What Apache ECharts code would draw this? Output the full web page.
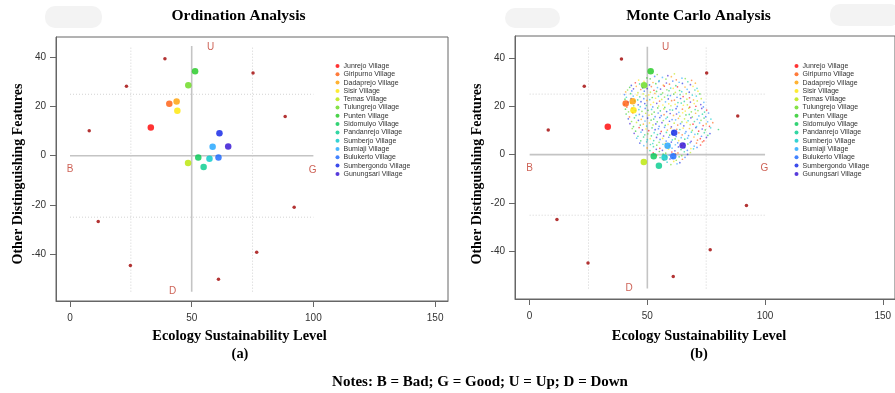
<!DOCTYPE html>
<html>
<head>
<meta charset="utf-8">
<script src="https://cdn.jsdelivr.net/npm/echarts@6/dist/echarts.min.js"></script>
<style>html,body{margin:0;padding:0;background:#fff}#chart{width:895px;height:393px}</style>
</head>
<body>
<div id="chart"></div>
<script>
const villages = ['Junrejo Village','Giripurno Village','Dadaprejo Village','Sisir Village','Temas Village','Tulungrejo Village','Punten Village','Sidomulyo Village','Pandanrejo Village','Sumberjo Village','Bumiaji Village','Bulukerto Village','Sumbergondo Village','Gunungsari Village'];
const villageX = [33.2, 40.8, 43.8, 44.1, 48.5, 48.6, 51.4, 52.7, 54.9, 57.3, 58.6, 61.0, 61.4, 65.0];
const villageY = [11.5, 21.1, 22.1, 18.3, -3.0, 28.7, 34.4, -0.7, -4.6, -1.2, 3.7, -0.7, 9.1, 3.8];
const villageColors = ['#ff0000','#ff5a0a','#ff9f00','#ffe600','#b8e600','#66d91a','#1ec81e','#00c853','#00cc8c','#00c8c8','#1aa3ff','#1464ff','#0a1ee6','#2d0ad2'];

const refX = [39.0, 23.2, 7.9, 75.2, 88.4, 11.6, 24.8, 61.0, 76.7, 92.1];
const refY = [39.5, 28.3, 10.2, 33.7, 16.0, -26.8, -44.7, -50.3, -39.3, -21.0];

const quadLabels = ['U','B','G','D'];
const quadX = [57.8, 0, 99.7, 42.2];
const quadY = [44.3, -5.5, -5.8, -55.3];

const solidLines = [[[50,-55.3],[50,44.6]], [[0,0],[100,0]]];
const dottedLines = [[[25,-55.3],[25,44.6]], [[75,-55.3],[75,44.6]], [[0,25],[100,25]], [[0,-25],[100,-25]]];

const xTicks = [0, 50, 100, 150];
const yTicks = [-40, -20, 0, 20, 40];

const monteCarloPoints = [
[54.2,33.1],[58.7,32.6],[61.5,33.4],
[49.8,31.7],[53.1,32.3],[56.4,31.9],[60.2,32.2],[64.7,31.6],
[46.3,30.8],[51.2,31.3],[55.0,30.6],[57.9,31.2],[62.3,30.9],[66.1,31.4],[68.8,30.7],
[44.9,29.7],[48.6,30.3],[52.4,29.8],[54.9,30.2],[58.1,29.6],[60.8,30.4],[63.5,29.9],[67.2,30.1],[70.4,29.5],
[43.2,28.6],[46.7,29.2],[50.9,28.8],[53.6,29.3],[56.8,28.7],[59.4,29.1],[62.1,28.5],[64.9,29.4],[68.3,28.9],
[42.5,27.8],[45.3,28.2],[48.0,27.6],[51.7,28.1],[54.3,27.7],[57.2,28.3],[59.9,27.5],[62.8,28.0],[66.0,27.9],[69.4,28.2],[71.1,27.4],
[41.6,26.7],[44.1,27.2],[47.2,26.9],[49.9,27.3],[52.8,26.6],[55.6,27.1],[58.3,26.8],[61.0,27.4],[63.7,26.5],[66.9,27.0],[70.2,26.7],
[40.8,25.9],[43.4,26.3],[46.0,25.6],[48.7,26.2],[51.3,25.8],[53.9,26.1],[56.5,25.5],[59.2,26.4],[61.9,25.7],[64.6,26.0],[67.8,25.8],[71.5,26.2],
[40.3,24.8],[42.9,25.2],[45.6,24.6],[48.2,25.1],[50.6,24.7],[53.2,25.3],[55.8,24.9],[58.6,24.5],[61.2,25.0],[63.9,24.8],[66.5,25.2],[69.1,24.6],[72.3,25.1],
[41.1,23.7],[44.0,24.2],[46.8,23.9],[49.4,24.3],[52.1,23.6],[54.7,24.1],[57.3,23.8],[59.8,24.4],[62.6,23.7],[65.2,24.0],[67.9,23.5],[70.8,24.2],
[40.5,22.9],[43.1,23.2],[45.9,22.6],[48.5,23.1],[51.0,22.7],[53.5,23.3],[56.1,22.8],[58.9,23.0],[61.5,22.5],[64.1,23.2],[66.8,22.9],[69.6,22.6],[72.9,23.1],
[41.8,21.7],[44.6,22.2],[47.3,21.9],[49.8,22.4],[52.6,21.6],[55.2,22.1],[57.7,21.8],[60.3,22.3],[63.0,21.5],[65.7,22.0],[68.3,21.7],[71.2,22.2],[74.0,21.6],
[40.2,20.8],[42.9,21.3],[46.1,20.6],[48.9,21.1],[51.4,20.7],[54.0,21.2],[56.6,20.5],[59.1,21.0],[61.8,20.8],[64.4,21.3],[67.0,20.6],[69.9,21.1],[72.7,20.7],
[41.3,19.6],[44.2,20.2],[47.0,19.8],[49.6,20.3],[52.3,19.7],[54.8,20.1],[57.4,19.5],[60.0,20.2],[62.7,19.9],[65.3,20.4],[68.0,19.6],[70.6,20.0],[73.8,19.7],
[40.7,18.8],[43.5,19.2],[46.4,18.6],[49.1,19.1],[51.8,18.7],[54.4,19.3],[57.0,18.9],[59.6,18.5],[62.2,19.0],[64.9,18.8],[67.6,19.2],[70.3,18.6],[73.1,19.1],[75.2,18.4],
[42.0,17.7],[44.9,18.2],[47.7,17.9],[50.3,18.3],[52.9,17.6],[55.5,18.1],[58.2,17.8],[60.7,18.4],[63.4,17.5],[66.1,18.0],[68.7,17.7],[71.5,18.2],[74.3,17.6],
[41.0,16.8],[43.8,17.3],[46.6,16.6],[49.3,17.1],[51.9,16.7],[54.6,17.2],[57.1,16.5],[59.7,17.0],[62.4,16.8],[65.0,17.3],[67.8,16.6],[70.5,17.1],[73.4,16.7],[76.0,17.2],
[42.4,15.6],[45.2,16.2],[48.0,15.8],[50.7,16.3],[53.3,15.7],[55.9,16.1],[58.5,15.5],[61.1,16.2],[63.8,15.9],[66.4,16.4],[69.1,15.6],[71.9,16.0],[74.8,15.7],
[41.9,14.8],[44.5,15.2],[47.4,14.6],[50.1,15.1],[52.7,14.7],[55.3,15.3],[57.9,14.9],[60.5,14.5],[63.2,15.0],[65.8,14.8],[68.5,15.2],[71.2,14.6],[74.1,15.1],[77.0,14.7],
[43.3,13.7],[46.2,14.2],[49.0,13.9],[51.6,14.3],[54.2,13.6],[56.8,14.1],[59.4,13.8],[62.0,14.4],[64.7,13.5],[67.3,14.0],[70.0,13.7],[72.8,14.2],[75.6,13.6],
[42.6,12.8],[45.4,13.3],[48.3,12.6],[50.9,13.1],[53.6,12.7],[56.2,13.2],[58.8,12.5],[61.4,13.0],[64.1,12.8],[66.7,13.3],[69.4,12.6],[72.2,13.1],[75.0,12.7],[77.8,13.2],
[44.1,11.6],[47.0,12.2],[49.7,11.8],[52.4,12.3],[55.0,11.7],[57.6,12.1],[60.2,11.5],[62.9,12.2],[65.5,11.9],[68.2,12.4],[70.9,11.6],[73.7,12.0],[76.4,11.7],
[43.6,10.8],[46.5,11.2],[49.4,10.6],[52.0,11.1],[54.7,10.7],[57.3,11.3],[59.9,10.9],[62.5,10.5],[65.2,11.0],[67.9,10.8],[70.6,11.2],[73.3,10.6],[76.9,11.1],[80.2,10.4],
[45.0,9.7],[47.9,10.2],[50.6,9.9],[53.3,10.3],[55.9,9.6],[58.5,10.1],[61.1,9.8],[63.8,10.4],[66.4,9.5],[69.1,10.0],[71.8,9.7],[74.6,10.2],
[44.4,8.8],[47.3,9.3],[50.2,8.6],[52.9,9.1],[55.5,8.7],[58.1,9.2],[60.7,8.5],[63.4,9.0],[66.0,8.8],[68.7,9.3],[71.4,8.6],[74.2,9.1],[76.6,8.7],
[46.0,7.6],[48.9,8.2],[51.7,7.8],[54.3,8.3],[56.9,7.7],[59.5,8.1],[62.2,7.5],[64.8,8.2],[67.5,7.9],[70.2,8.4],[73.0,7.6],[75.7,8.0],
[45.5,6.8],[48.4,7.3],[51.2,6.6],[53.9,7.1],[56.5,6.7],[59.1,7.2],[61.8,6.5],[64.4,7.0],[67.1,6.8],[69.8,7.3],[72.5,6.6],[75.1,7.1],
[47.2,5.7],[50.0,6.2],[52.7,5.8],[55.4,6.3],[58.0,5.6],[60.6,6.1],[63.3,5.8],[65.9,6.4],[68.6,5.5],[71.3,6.0],[74.0,5.7],
[46.8,4.8],[49.7,5.3],[52.3,4.6],[55.0,5.1],[57.6,4.7],[60.2,5.2],[62.9,4.9],[65.5,4.5],[68.2,5.0],[70.9,4.8],[73.4,5.3],
[48.5,3.7],[51.3,4.2],[54.0,3.9],[56.6,4.3],[59.3,3.6],[61.9,4.1],[64.6,3.8],[67.2,4.4],[69.9,3.5],[72.6,4.0],
[49.9,2.8],[52.6,3.3],[55.3,2.6],[57.9,3.1],[60.5,2.7],[63.2,3.2],[65.8,2.9],[68.5,2.5],[71.1,3.0],
[51.1,1.7],[53.8,2.2],[56.4,1.8],[59.0,2.3],[61.7,1.6],[64.3,2.1],[67.0,1.8],[69.6,2.4],
[52.5,0.8],[55.1,1.3],[57.8,0.6],[60.4,1.1],[63.0,0.7],[65.7,1.2],[68.3,0.9],
[54.0,-0.3],[56.7,0.2],[59.3,-0.2],[62.0,0.3],[64.6,-0.4],[67.1,0.1],
[55.4,-1.2],[58.1,-0.8],[60.8,-1.3],[63.5,-0.9],[66.0,-1.1],
[56.9,-2.2],[59.6,-1.8],[62.3,-2.3],[64.9,-1.9],
[58.4,-3.1],[61.2,-2.8],[63.8,-3.3],
[60.0,-4.1],[62.6,-3.8]
];

const chart = echarts.init(document.getElementById('chart'), null, {renderer: 'canvas'});
const SERIF = '"Liberation Serif","Times New Roman",serif';
const SANS = '"Liberation Sans",Arial,sans-serif';

function axes(gridIndex, xmin, xmax, ymin, ymax) {
  const line = {show: true, onZero: false, lineStyle: {color: '#666', width: 1}};
  return {
    x: {type: 'value', gridIndex, min: xmin, max: xmax, splitLine: {show: false}, axisLine: line,
        axisTick: {show: true, inside: false, length: 6, customValues: xTicks, lineStyle: {color: '#666'}},
        axisLabel: {customValues: xTicks, margin: 12, color: '#333', fontFamily: SANS, fontSize: 10}},
    y: {type: 'value', gridIndex, min: ymin, max: ymax, splitLine: {show: false}, axisLine: line,
        axisTick: {show: true, inside: false, length: 6, customValues: yTicks, lineStyle: {color: '#666'}},
        axisLabel: {customValues: yTicks, margin: 10, color: '#333', fontFamily: SANS, fontSize: 10}}
  };
}
const a0 = axes(0, -5.75, 155.3, -59.1, 48.3);
const a1 = axes(1, -6.22, 155.2, -59.6, 49.0);

function colorIndex(i) {
  let h = Math.imul(i + 17, 0x45d9f3b) >>> 0;
  h = (h ^ (h >>> 15)) >>> 0;
  h = Math.imul(h, 0x2c1b3c6d) >>> 0;
  h = (h ^ (h >>> 12)) >>> 0;
  return h % 14;
}

const series = [];
for (let g = 0; g < 2; g++) {
  solidLines.forEach(seg => series.push({type: 'line', xAxisIndex: g, yAxisIndex: g, data: seg, symbol: 'none', silent: true,
    lineStyle: {color: '#c4c4c4', width: 1.6}, z: 1}));
  dottedLines.forEach(seg => series.push({type: 'line', xAxisIndex: g, yAxisIndex: g, data: seg, symbol: 'none', silent: true,
    lineStyle: {color: '#d2d2d2', width: 1, type: [1, 2]}, z: 1}));
  series.push({type: 'scatter', xAxisIndex: g, yAxisIndex: g, symbolSize: 0, silent: true, z: 5,
    data: quadLabels.map((t, i) => ({name: t, value: [quadX[i], quadY[i]]})),
    label: {show: true, position: 'inside', formatter: '{b}', color: '#c0392b', fontFamily: SANS, fontSize: 10}});
  series.push({type: 'scatter', xAxisIndex: g, yAxisIndex: g, name: 'ref', symbolSize: 3.5, z: 6,
    itemStyle: {color: '#a00000'}, data: refX.map((x, i) => [x, refY[i]])});
}
series.push({type: 'scatter', xAxisIndex: 1, yAxisIndex: 1, name: 'mc', symbolSize: 1.7, z: 3, silent: true,
  data: monteCarloPoints.map((p, i) => ({value: p, itemStyle: {color: villageColors[colorIndex(i)], opacity: 0.6}}))});
villages.forEach((v, i) => {
  for (let g = 0; g < 2; g++) {
    series.push({type: 'scatter', name: v, xAxisIndex: g, yAxisIndex: g, symbolSize: 6.5, z: 8,
      itemStyle: {color: villageColors[i]}, data: [[villageX[i], villageY[i]]]});
  }
});

function legend(left, top) {
  return {data: villages, orient: 'vertical', left, top, icon: 'circle', itemWidth: 4, itemHeight: 4, itemGap: 0.3,
    textStyle: {fontSize: 7, lineHeight: 8, color: '#333', fontFamily: SANS, padding: [0, 0, 0, -1]}, padding: 0, selectedMode: false};
}

const blob = (x, y, w, h) => ({type: 'rect', shape: {x, y, width: w, height: h, r: 10}, style: {fill: '#f3f3f3'}, silent: true, z: -1});
const txt = (x, y, text, font, extra) => Object.assign({type: 'text', x, y, style: {text, font, fill: '#000', align: 'center', verticalAlign: 'middle'}, silent: true}, extra || {});

chart.setOption({
  animation: false,
  backgroundColor: '#fff',
  grid: [
    {left: 56, top: 37, width: 392, height: 264, show: true, borderColor: '#666', borderWidth: 1, backgroundColor: 'transparent'},
    {left: 515, top: 36, width: 389, height: 263, show: true, borderColor: '#666', borderWidth: 1, backgroundColor: 'transparent'}
  ],
  xAxis: [a0.x, a1.x],
  yAxis: [a0.y, a1.y],
  legend: [legend(335.5, 62), legend(794.5, 62)],
  series,
  graphic: [
    blob(45, 6, 57, 22), blob(505, 8, 55, 20), blob(830, 4, 70, 22),
    txt(238.5, 16, 'Ordination Analysis', 'bold 15.5px ' + SERIF),
    txt(698.5, 16, 'Monte Carlo Analysis', 'bold 15.5px ' + SERIF),
    txt(18, 174, 'Other Distinguishing Features', 'bold 14px ' + SERIF, {rotation: Math.PI / 2}),
    txt(477, 174, 'Other Distinguishing Features', 'bold 14px ' + SERIF, {rotation: Math.PI / 2}),
    txt(239.5, 336, 'Ecology Sustainability Level', 'bold 14.4px ' + SERIF),
    txt(240, 354, '(a)', 'bold 14.4px ' + SERIF),
    txt(699, 336, 'Ecology Sustainability Level', 'bold 14.4px ' + SERIF),
    txt(699, 354, '(b)', 'bold 14.4px ' + SERIF),
    txt(480, 382, 'Notes: B = Bad; G = Good; U = Up; D = Down', 'bold 15px ' + SERIF)
  ]
});
</script>
</body>
</html>
